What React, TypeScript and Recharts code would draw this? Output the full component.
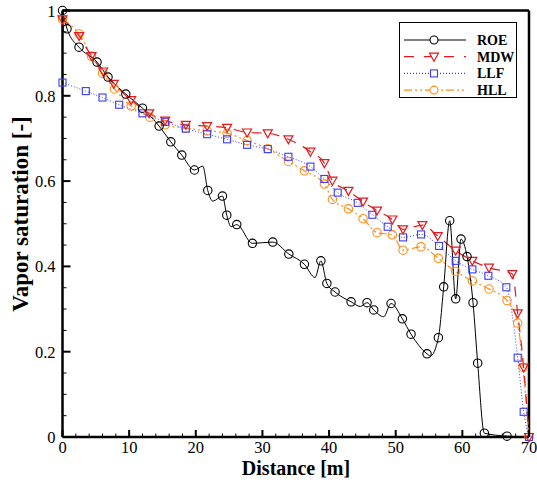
import React from "react";
import {
  LineChart,
  Line,
  XAxis,
  YAxis,
  ReferenceLine,
  Legend,
  Label,
} from "recharts";

const X_TICKS = [0, 2, 4, 6, 8, 10, 12, 14, 16, 18, 20, 22, 24, 26, 28, 30, 32, 34, 36, 38, 40, 42, 44, 46, 48, 50, 52, 54, 56, 58, 60, 62, 64, 66, 68, 70];
const Y_TICKS = [0, 0.05, 0.1, 0.15, 0.2, 0.25, 0.3, 0.35, 0.4, 0.45, 0.5, 0.55, 0.6, 0.65, 0.7, 0.75, 0.8, 0.85, 0.9, 0.95, 1];

const ROE_X = [0, 0.68, 2.48, 5.18, 6.83, 9.5, 12.0, 14.5, 16.25, 17.9, 19.8, 21.05, 21.8, 22.55, 24.0, 24.65, 25.3, 26.15, 28.5, 31.55, 33.96, 36.3, 37.9, 38.77, 39.67, 40.9, 43.3, 44.7, 45.7, 46.7, 48.2, 49.3, 51.0, 52.3, 54.7, 55.2, 56.4, 57.2, 58.1, 59.0, 59.8, 60.7, 61.6, 62.3, 63.3, 66.7, 70];
const ROE_Y = [1.0, 0.957, 0.914, 0.879, 0.844, 0.804, 0.771, 0.729, 0.692, 0.661, 0.626, 0.635, 0.578, 0.553, 0.565, 0.52, 0.493, 0.498, 0.454, 0.457, 0.429, 0.405, 0.374, 0.413, 0.36, 0.34, 0.317, 0.306, 0.315, 0.298, 0.282, 0.313, 0.277, 0.241, 0.195, 0.19, 0.233, 0.352, 0.507, 0.324, 0.464, 0.423, 0.315, 0.173, 0.009, 0.002, 0];
// points of the ROE curve that carry no symbol
const ROE_PLAIN = [21.05, 22.55, 25.3, 37.9, 44.7, 48.2, 55.2, 70];

const MDW_X = [0, 2.5, 4.35, 6.1, 7.7, 10.3, 13.0, 15.4, 18.5, 21.7, 24.7, 27.7, 30.8, 33.9, 37.2, 39.3, 40.5, 42.9, 45.1, 47.2, 49.5, 51.1, 54.0, 56.3, 59.0, 61.5, 64.0, 67.5, 68.3, 69.2, 70];
const MDW_Y = [0.979, 0.94, 0.893, 0.857, 0.828, 0.79, 0.759, 0.742, 0.732, 0.729, 0.725, 0.714, 0.712, 0.698, 0.669, 0.642, 0.601, 0.577, 0.552, 0.531, 0.51, 0.487, 0.497, 0.471, 0.437, 0.413, 0.397, 0.382, 0.29, 0.163, 0];

const LLF_X = [0, 3.5, 6.0, 8.5, 12.0, 15.4, 18.5, 21.7, 24.7, 27.7, 30.8, 33.9, 37.2, 39.3, 41.3, 44.3, 46.5, 48.8, 51.1, 53.8, 56.5, 59.0, 61.5, 63.9, 66.6, 68.3, 69.2, 70];
const LLF_Y = [0.831, 0.811, 0.796, 0.779, 0.759, 0.739, 0.723, 0.71, 0.698, 0.685, 0.675, 0.657, 0.634, 0.605, 0.573, 0.549, 0.521, 0.493, 0.468, 0.475, 0.448, 0.413, 0.393, 0.378, 0.351, 0.186, 0.059, 0];

const HLL_X = [0, 2.5, 4.35, 6.0, 7.8, 10.3, 13.1, 15.4, 18.5, 21.7, 24.7, 27.7, 30.8, 33.9, 36.3, 39.3, 40.5, 42.9, 45.1, 47.2, 49.5, 51.1, 53.8, 56.4, 59.0, 61.5, 64.0, 66.7, 68.3, 69.1, 70];
const HLL_Y = [0.979, 0.945, 0.893, 0.853, 0.816, 0.776, 0.75, 0.732, 0.724, 0.718, 0.712, 0.695, 0.676, 0.646, 0.624, 0.593, 0.557, 0.535, 0.512, 0.479, 0.474, 0.438, 0.446, 0.419, 0.388, 0.366, 0.347, 0.32, 0.267, 0.163, 0];

const SERIF = "Liberation Serif";
const RED = "#e41a1c";
const BLUE = "#3b3bff";
const ORANGE = "#ff8c1a";

const toPoints = (xs: number[], ys: number[]) =>
  xs.map((x, i) => ({ x, y: ys[i] }));

const roeData = toPoints(ROE_X, ROE_Y);
const mdwData = toPoints(MDW_X, MDW_Y);
const llfData = toPoints(LLF_X, LLF_Y);
const hllData = toPoints(HLL_X, HLL_Y);

function circle(color: string) {
  return (p: any) => {
    if (p.payload && ROE_PLAIN.includes(p.payload.x) && color === "#000") {
      return <g key={`c-${p.index}`} />;
    }
    return (
      <circle key={`c-${color}-${p.index}`} cx={p.cx} cy={p.cy} r={4.2} fill="none" stroke={color} strokeWidth={1.1} />
    );
  };
}

function triangle(p: any) {
  const { cx, cy } = p;
  return (
    <polygon
      key={`t-${p.index}`}
      points={`${cx - 4.5},${cy - 3.5} ${cx + 4.5},${cy - 3.5} ${cx},${cy + 4.5}`}
      fill="none"
      stroke={RED}
      strokeWidth={1.2}
    />
  );
}

function square(p: any) {
  return (
    <rect key={`s-${p.index}`} x={p.cx - 3.5} y={p.cy - 3.5} width={7} height={7} fill="none" stroke={BLUE} strokeWidth={1.1} />
  );
}

const tickText = { fontFamily: SERIF, fontSize: 16.5, fill: "#000" };

function XTick(props: any) {
  const { x, y, payload } = props;
  const v = payload.value;
  const major = v % 10 === 0;
  return (
    <g>
      <line x1={x} x2={x} y1={y} y2={y - (major ? 7 : 3.5)} stroke="#000" strokeWidth={major ? 2 : 1} />
      {major && (
        <text x={x} y={y + 16} textAnchor="middle" style={tickText}>
          {v}
        </text>
      )}
    </g>
  );
}

function YTick(props: any) {
  const { x, y, payload } = props;
  const v = payload.value;
  const major = Math.abs(v / 0.2 - Math.round(v / 0.2)) < 1e-6;
  const label = v === 0 ? "0" : v === 1 ? "1" : v.toFixed(1);
  return (
    <g>
      <line x1={x} x2={x + (major ? 8 : 4)} y1={y} y2={y} stroke="#000" strokeWidth={major ? 2 : 1} />
      {major && (
        <text x={x - 7} y={y + 6} textAnchor="end" style={tickText}>
          {label}
        </text>
      )}
    </g>
  );
}

const LEGEND_ROWS = [
  { name: "ROE", color: "#000", dash: undefined, mark: "circle" },
  { name: "MDW", color: RED, dash: "10 10", mark: "triangle" },
  { name: "LLF", color: BLUE, dash: "1 2", mark: "square" },
  { name: "HLL", color: ORANGE, dash: "8 3 2 3 2 3", mark: "circle" },
];

function LegendBox() {
  return (
    <svg width={118} height={76} style={{ display: "block", background: "#fff", border: "1px solid #000", boxSizing: "border-box" }}>
      {LEGEND_ROWS.map((r, i) => {
        const cy = 17 + i * 16.7;
        const cx = 34;
        return (
          <g key={r.name}>
            <line x1={4} x2={66} y1={cy} y2={cy} stroke={r.color} strokeWidth={1.2} strokeDasharray={r.dash} />
            {r.mark === "circle" && <circle cx={cx} cy={cy} r={4} fill="#fff" stroke={r.color} strokeWidth={1.1} />}
            {r.mark === "triangle" && (
              <polygon points={`${cx - 4.5},${cy - 3.5} ${cx + 4.5},${cy - 3.5} ${cx},${cy + 4.5}`} fill="#fff" stroke={r.color} strokeWidth={1.2} />
            )}
            {r.mark === "square" && <rect x={cx - 3.5} y={cy - 3.5} width={7} height={7} fill="#fff" stroke={r.color} strokeWidth={1.1} />}
            <text x={77} y={cy + 5} style={{ fontFamily: SERIF, fontSize: 14, fontWeight: "bold", fill: "#000" }}>
              {r.name}
            </text>
          </g>
        );
      })}
    </svg>
  );
}

export default function App() {
  return (
    <div style={{ position: "absolute", left: 0, top: 0, background: "#fff", fontFamily: SERIF }}>
      <LineChart width={537} height={484} margin={{ top: 10.5, right: 8, left: 0, bottom: 0 }}>
        <XAxis
          type="number"
          dataKey="x"
          domain={[0, 70]}
          ticks={X_TICKS}
          interval={0}
          tickSize={0}
          tickMargin={0}
          tickLine={false}
          height={47}
          axisLine={{ stroke: "#000", strokeWidth: 2.5 }}
          tick={(p: any) => <XTick {...p} />}
        >
          <Label
            content={() => (
              <text
                x={296}
                y={475}
                textAnchor="middle"
                style={{ fontFamily: SERIF, fontSize: 20, fontWeight: "bold", fill: "#000" }}
              >
                Distance [m]
              </text>
            )}
          />
        </XAxis>
        <YAxis
          type="number"
          dataKey="y"
          domain={[0, 1]}
          ticks={Y_TICKS}
          interval={0}
          width={62.5}
          tickSize={0}
          tickMargin={0}
          tickLine={false}
          axisLine={{ stroke: "#000", strokeWidth: 2.5 }}
          tick={(p: any) => <YTick {...p} />}
        >
          <Label
            content={() => (
              <text
                x={28}
                y={214}
                transform="rotate(-90 28 214)"
                textAnchor="middle"
                style={{ fontFamily: SERIF, fontSize: 23, fontWeight: "bold", fill: "#000" }}
              >
                Vapor saturation [-]
              </text>
            )}
          />
        </YAxis>
        <ReferenceLine y={1} stroke="#000" strokeWidth={2.5} />
        <ReferenceLine x={70} stroke="#000" strokeWidth={2.5} />

        <Line data={hllData} dataKey="y" name="HLL" type="monotone" stroke={ORANGE} strokeWidth={1.2} strokeDasharray="8 3 2 3 2 3" dot={circle(ORANGE)} isAnimationActive={false} />
        <Line data={llfData} dataKey="y" name="LLF" type="monotone" stroke={BLUE} strokeWidth={1} strokeDasharray="1 2" dot={square} isAnimationActive={false} />
        <Line data={mdwData} dataKey="y" name="MDW" type="monotone" stroke={RED} strokeWidth={1.2} strokeDasharray="10 8" dot={triangle} isAnimationActive={false} />
        <Line data={roeData} dataKey="y" name="ROE" type="monotone" stroke="#000" strokeWidth={1} dot={circle("#000")} isAnimationActive={false} />

        <Legend
          layout="vertical"
          align="center"
          verticalAlign="middle"
          wrapperStyle={{ left: 399, top: 22, width: 118 }}
          content={() => <LegendBox />}
        />
      </LineChart>
    </div>
  );
}
